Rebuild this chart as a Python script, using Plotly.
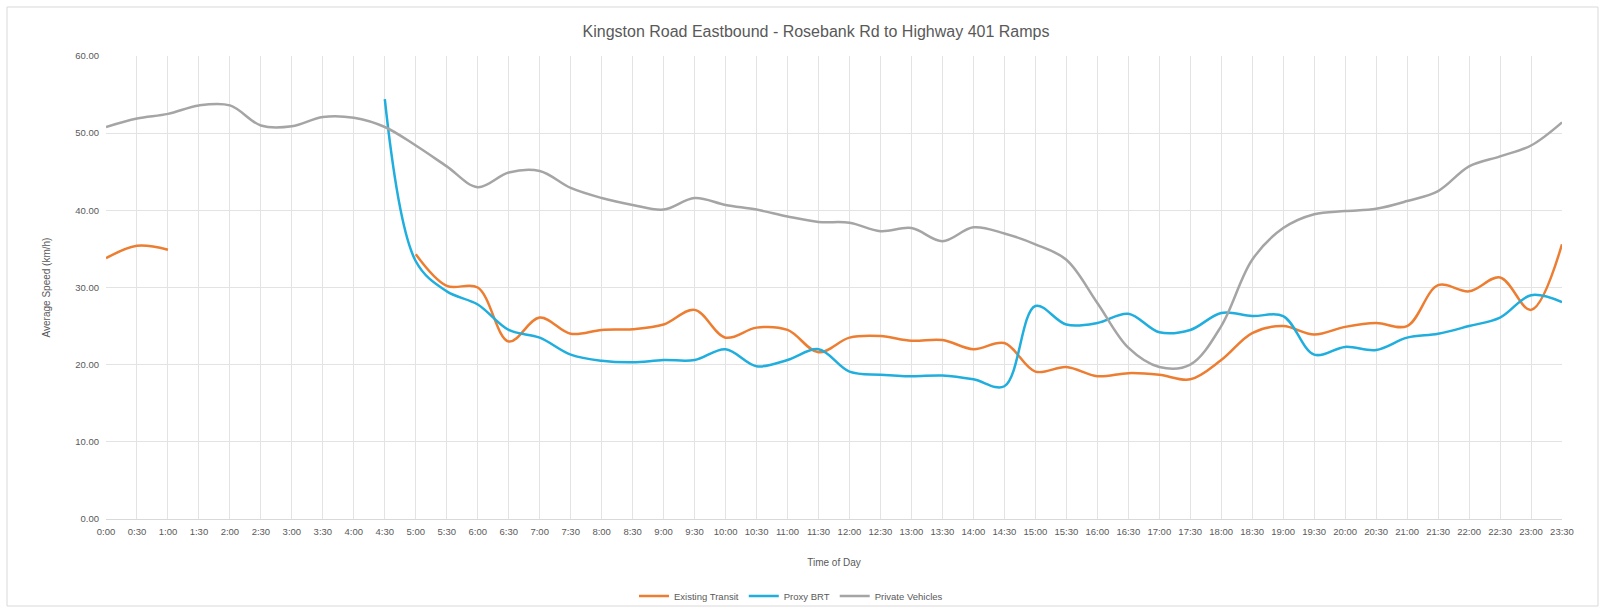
import plotly.graph_objects as go

# Half-hour time slots across the day
times = [f"{h}:{m:02d}" for h in range(24) for m in (0, 30)]

# Average speeds (km/h) per time slot; None where no data was recorded
existing_transit = [
    33.8, 35.4, 34.9, None, None, None, None, None, None, None,
    34.3, 30.2, 30.0, 23.0, 26.1, 24.0, 24.5, 24.6, 25.2, 27.1,
    23.5, 24.8, 24.5, 21.6, 23.5, 23.7, 23.1, 23.2, 22.0, 22.8,
    19.1, 19.7, 18.5, 18.9, 18.7, 18.1, 20.6, 24.1, 25.0, 23.9,
    24.9, 25.4, 25.0, 30.3, 29.5, 31.3, 27.1, 35.6,
]
proxy_brt = [
    None, None, None, None, None, None, None, None, None, 54.4,
    33.4, 29.5, 27.8, 24.5, 23.5, 21.3, 20.5, 20.3, 20.6, 20.6,
    22.0, 19.8, 20.6, 22.0, 19.1, 18.7, 18.5, 18.6, 18.1, 17.2,
    27.6, 25.2, 25.4, 26.6, 24.2, 24.5, 26.7, 26.3, 26.3, 21.3,
    22.3, 21.9, 23.5, 24.0, 25.0, 26.1, 29.0, 28.1,
]
private_vehicles = [
    50.8, 51.9, 52.5, 53.6, 53.6, 51.0, 50.9, 52.1, 52.0, 50.8,
    48.4, 45.7, 43.0, 44.9, 45.1, 42.9, 41.6, 40.7, 40.1, 41.6,
    40.7, 40.1, 39.2, 38.5, 38.4, 37.3, 37.7, 36.0, 37.8, 37.0,
    35.6, 33.6, 28.0, 22.2, 19.7, 20.0, 25.0, 33.6, 37.7, 39.5,
    39.9, 40.2, 41.2, 42.5, 45.7, 47.0, 48.4, 51.4,
]

series = [
    ("Existing Transit", existing_transit, "#ED7D31"),
    ("Proxy BRT", proxy_brt, "#1FAEDD"),
    ("Private Vehicles", private_vehicles, "#A5A5A5"),
]

FONT = "Liberation Sans"
TEXT = "#595959"
GRID = "#E3E3E3"

fig = go.Figure()
for name, values, color in series:
    fig.add_trace(go.Scatter(
        x=times, y=values, name=name, mode="lines",
        line=dict(color=color, width=2.5, shape="spline", smoothing=1.0),
        connectgaps=False,
    ))

W, H = 1600, 611
L, R, T, B = 106, 38, 56, 92
pw, ph = W - L - R, H - T - B

def px_x(p):
    return (p - L) / pw

def px_y(p):
    return (H - B - p) / ph

fig.update_layout(
    width=W, height=H,
    margin=dict(l=L, r=R, t=T, b=B, autoexpand=False),
    paper_bgcolor="white", plot_bgcolor="white",
    font=dict(family=FONT, color=TEXT, size=10),
    title=dict(
        text="Kingston Road Eastbound - Rosebank Rd to Highway 401 Ramps",
        x=px_x(816), xref="paper", xanchor="center",
        y=1 - 31 / H, yanchor="middle",
        font=dict(family=FONT, size=16, color=TEXT),
    ),
    legend=dict(
        orientation="h", x=px_x(791), xanchor="center",
        y=px_y(596), yanchor="middle",
        font=dict(family=FONT, size=9.5, color=TEXT),
        itemwidth=30, bgcolor="rgba(0,0,0,0)",
    ),
    showlegend=True,
    shapes=[dict(
        type="rect", xref="paper", yref="paper",
        x0=px_x(7), x1=px_x(1598), y0=px_y(606), y1=px_y(7),
        line=dict(color="#D9D9D9", width=1), layer="below",
    )],
)

fig.update_xaxes(
    type="category", range=[0, len(times) - 1],
    showgrid=True, gridcolor=GRID, gridwidth=1,
    showline=True, linecolor="#D9D9D9", linewidth=1,
    ticks="", tickangle=0, ticklabelstandoff=4,
    tickfont=dict(size=9.5, color=TEXT),
    title=dict(text="Time of Day", font=dict(size=10, color=TEXT), standoff=22),
    zeroline=False, automargin=False,
)
fig.update_yaxes(
    range=[0, 60], dtick=10, tickformat=".2f",
    showgrid=True, gridcolor=GRID, gridwidth=1,
    zeroline=False, showline=False, ticks="", ticklabelstandoff=6,
    tickfont=dict(size=9.5, color=TEXT),
    title=dict(text="Average Speed (km/h)", font=dict(size=10, color=TEXT), standoff=22),
    automargin=False,
)

fig.write_html("out.html")
